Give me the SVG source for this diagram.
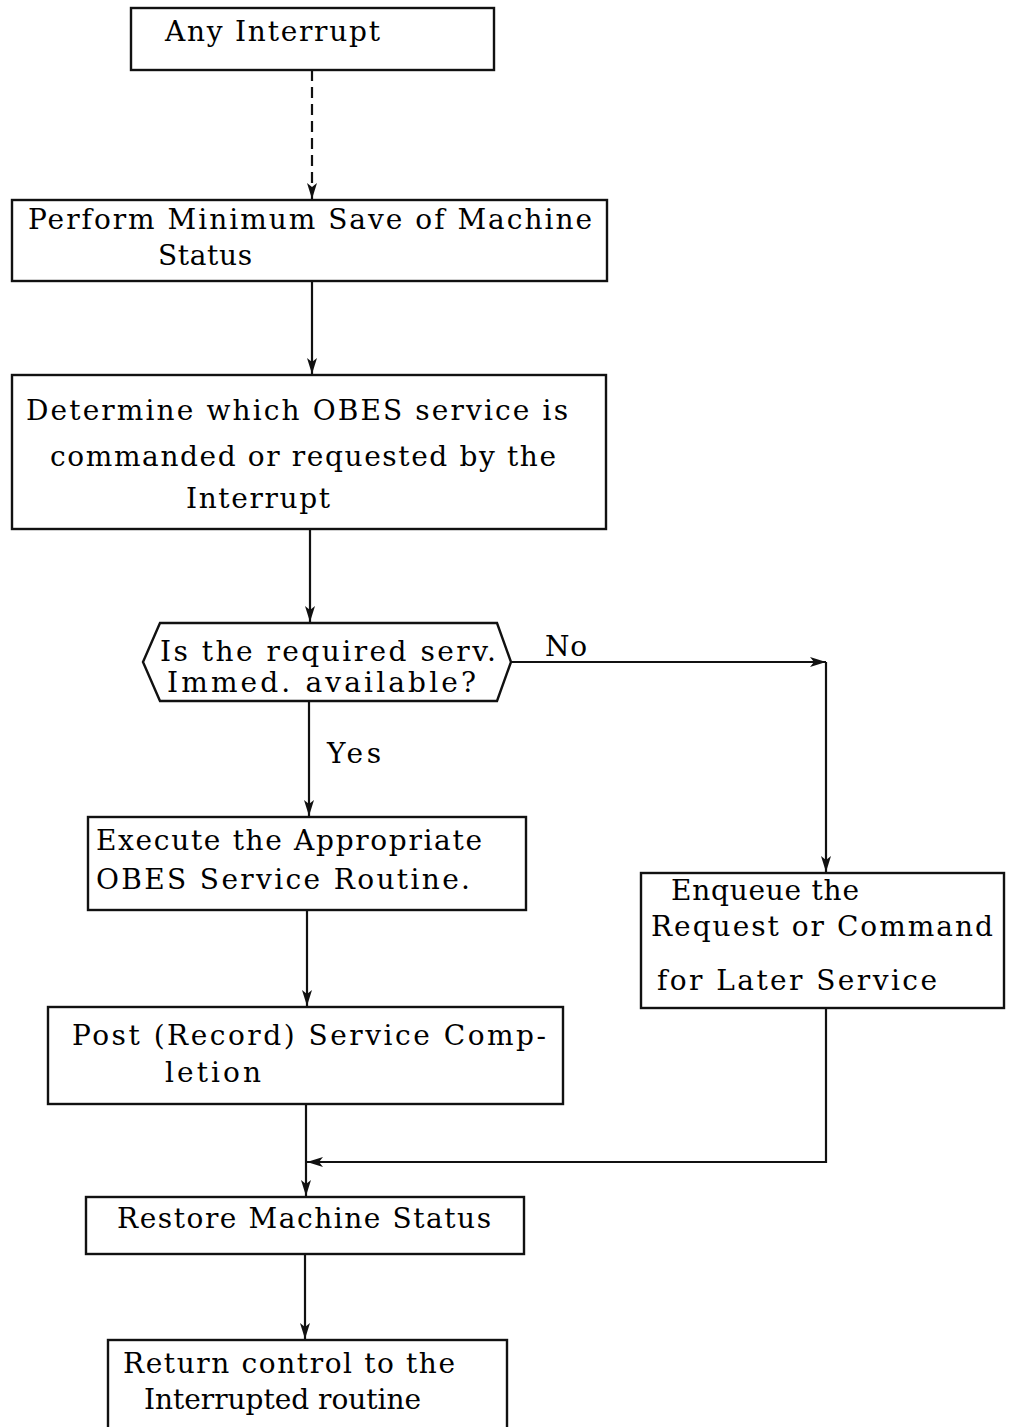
<svg xmlns="http://www.w3.org/2000/svg" width="1022" height="1427" viewBox="0 0 1022 1427">
<style>
.box{fill:#fff;stroke:#111;stroke-width:2.4}
.t{font-family:"DejaVu Serif","Liberation Serif",serif;font-size:28px;fill:#000}
.c{fill:none;stroke:#111;stroke-width:2.2}
.d{stroke-dasharray:11 6}
</style>
<defs>
<marker id="ah" markerUnits="userSpaceOnUse" markerWidth="18" markerHeight="12" refX="16" refY="6" orient="auto">
<path d="M0,1 L16,6 L0,11 L4,6 Z" fill="#111"/>
</marker>
</defs>
<rect width="1022" height="1427" fill="#fff"/>
<g id="connectors">
<line class="c d" x1="312" y1="70" x2="312" y2="199" marker-end="url(#ah)"/>
<line class="c" x1="312" y1="281" x2="312" y2="374" marker-end="url(#ah)"/>
<line class="c" x1="310" y1="529" x2="310" y2="622" marker-end="url(#ah)"/>
<line class="c" x1="511" y1="662" x2="826" y2="662" marker-end="url(#ah)"/>
<line class="c" x1="826" y1="662" x2="826" y2="872" marker-end="url(#ah)"/>
<line class="c" x1="309" y1="701" x2="309" y2="816" marker-end="url(#ah)"/>
<line class="c" x1="307" y1="910" x2="307" y2="1006" marker-end="url(#ah)"/>
<line class="c" x1="306" y1="1104" x2="306" y2="1196" marker-end="url(#ah)"/>
<polyline class="c" points="826,1008 826,1162 307,1162" marker-end="url(#ah)"/>
<line class="c" x1="305" y1="1254" x2="305" y2="1339" marker-end="url(#ah)"/>
<text class="t" x="545" y="656" textLength="42" lengthAdjust="spacing">No</text>
<text class="t" x="327" y="763" textLength="54" lengthAdjust="spacing">Yes</text>
</g>
<g id="any-interrupt">
<rect class="box" x="131" y="8" width="363" height="62"/>
<text class="t" x="165" y="41" textLength="215" lengthAdjust="spacing">Any Interrupt</text>
</g>
<g id="min-save">
<rect class="box" x="12" y="200" width="595" height="81"/>
<text class="t" x="28" y="229" textLength="564" lengthAdjust="spacing">Perform Minimum Save of Machine</text>
<text class="t" x="158" y="265" textLength="94" lengthAdjust="spacing">Status</text>
</g>
<g id="determine">
<rect class="box" x="12" y="375" width="594" height="154"/>
<text class="t" x="26" y="420" textLength="542" lengthAdjust="spacing">Determine which OBES service is</text>
<text class="t" x="50" y="466" textLength="506" lengthAdjust="spacing">commanded or requested by the</text>
<text class="t" x="186" y="508" textLength="144" lengthAdjust="spacing">Interrupt</text>
</g>
<g id="decision">
<polygon class="box" points="143,662 160,623 497,623 511,662 497,701 160,701"/>
<text class="t" x="160" y="661" textLength="336" lengthAdjust="spacing">Is the required serv.</text>
<text class="t" x="167" y="692" textLength="309" lengthAdjust="spacing">Immed. available?</text>
</g>
<g id="execute">
<rect class="box" x="88" y="817" width="438" height="93"/>
<text class="t" x="96" y="850" textLength="386" lengthAdjust="spacing">Execute the Appropriate</text>
<text class="t" x="96" y="889" textLength="374" lengthAdjust="spacing">OBES Service Routine.</text>
</g>
<g id="enqueue">
<rect class="box" x="641" y="873" width="363" height="135"/>
<text class="t" x="671" y="900" textLength="188" lengthAdjust="spacing">Enqueue the</text>
<text class="t" x="651" y="936" textLength="342" lengthAdjust="spacing">Request or Command</text>
<text class="t" x="657" y="990" textLength="280" lengthAdjust="spacing">for Later Service</text>
</g>
<g id="post">
<rect class="box" x="48" y="1007" width="515" height="97"/>
<text class="t" x="72" y="1045" textLength="474" lengthAdjust="spacing">Post (Record) Service Comp-</text>
<text class="t" x="165" y="1082" textLength="96" lengthAdjust="spacing">letion</text>
</g>
<g id="restore">
<rect class="box" x="86" y="1197" width="438" height="57"/>
<text class="t" x="117" y="1228" textLength="374" lengthAdjust="spacing">Restore Machine Status</text>
</g>
<g id="return">
<rect class="box" x="108" y="1340" width="399" height="100"/>
<text class="t" x="123" y="1373" textLength="332" lengthAdjust="spacing">Return control to the</text>
<text class="t" x="144" y="1409" textLength="277" lengthAdjust="spacing">Interrupted routine</text>
</g>
</svg>
